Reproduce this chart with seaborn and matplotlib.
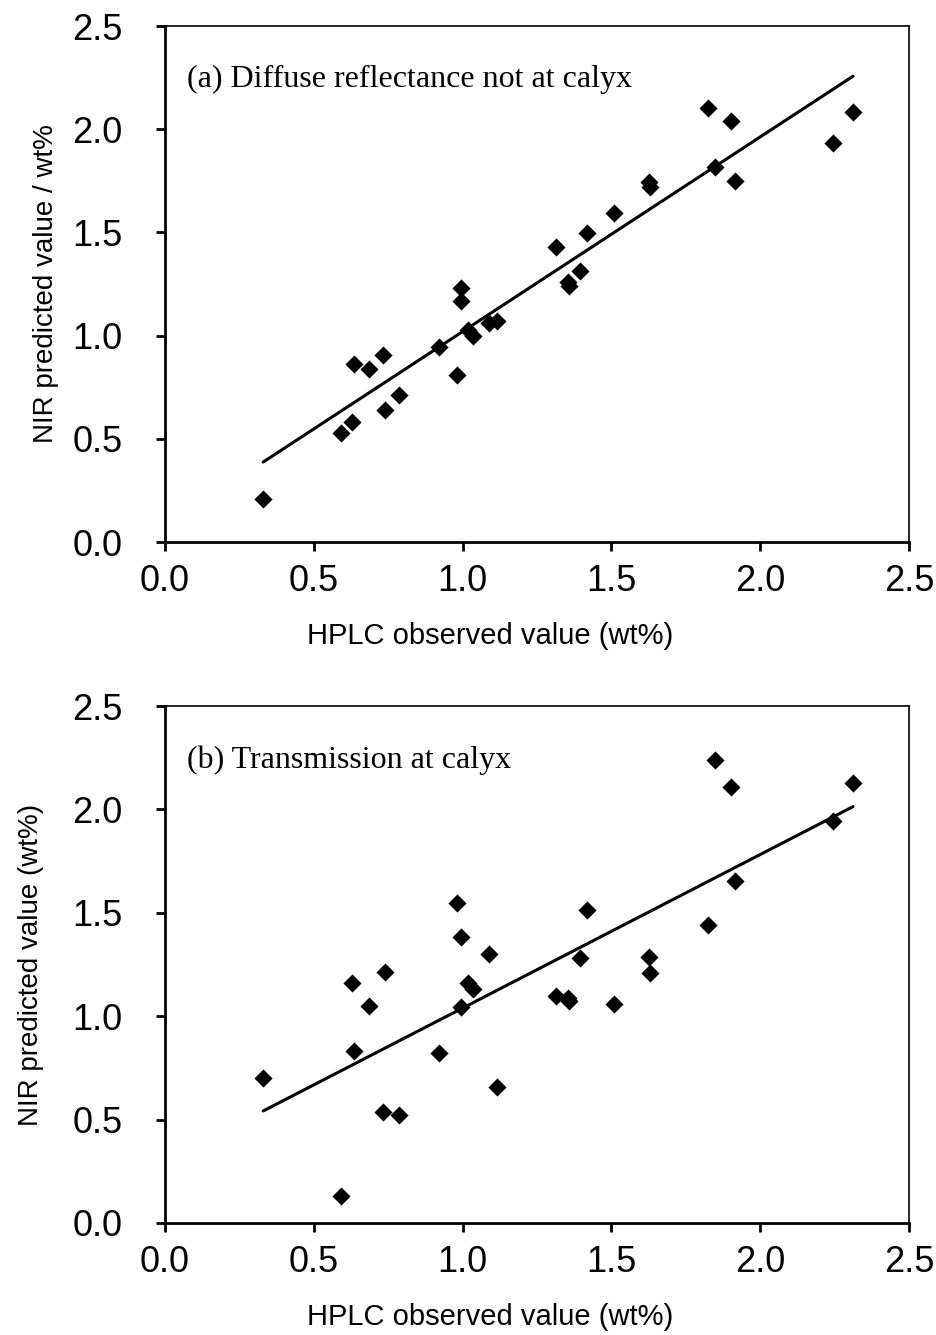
import matplotlib
matplotlib.use("Agg")
import matplotlib.pyplot as plt
import seaborn as sns
import numpy as np
import pandas as pd

# HPLC observed values (wt%) - shared by both panels
hplc = [0.33, 0.59, 0.63, 0.635, 0.685, 0.733, 0.739, 0.785, 0.92, 0.98,
        0.993, 0.996, 1.017, 1.036, 1.089, 1.115, 1.313, 1.354, 1.358, 1.396,
        1.419, 1.509, 1.627, 1.630, 1.826, 1.849, 1.902, 1.915, 2.243, 2.312]

# (a) Diffuse reflectance not at calyx - NIR predicted
nir_a = [0.21, 0.53, 0.58, 0.86, 0.84, 0.905, 0.64, 0.71, 0.945, 0.81,
         1.23, 1.17, 1.025, 1.00, 1.06, 1.07, 1.43, 1.26, 1.24, 1.315,
         1.495, 1.595, 1.745, 1.72, 2.105, 1.815, 2.04, 1.75, 1.935, 2.085]

# (b) Transmission at calyx - NIR predicted
nir_b = [0.70, 0.13, 1.16, 0.83, 1.05, 0.535, 1.215, 0.52, 0.82, 1.545,
         1.385, 1.045, 1.16, 1.13, 1.30, 0.66, 1.10, 1.09, 1.075, 1.28,
         1.515, 1.06, 1.285, 1.21, 1.44, 2.24, 2.11, 1.655, 1.945, 2.13]

ticks = [0.0, 0.5, 1.0, 1.5, 2.0, 2.5]
tick_labels = ["0.0", "0.5", "1.0", "1.5", "2.0", "2.5"]

panel_titles = ["(a) Diffuse reflectance not at calyx", "(b) Transmission at calyx"]
ylabels = ["NIR predicted value / wt%", "NIR predicted value (wt%)"]
xlabel = "HPLC observed value (wt%)"

sns.set_style("white")
plt.rcParams['font.family'] = ['Liberation Sans', 'DejaVu Sans']

fig = plt.figure(figsize=(9.36, 13.35), dpi=100)
W, H = 936, 1335
ax1 = fig.add_axes([165 / W, 1 - 542 / H, 744 / W, 516 / H])
ax2 = fig.add_axes([165 / W, 1 - 1223 / H, 744 / W, 517 / H])

df = pd.DataFrame({"hplc": hplc, "a": nir_a, "b": nir_b})

for ax, col, title, ylab, ylx in [(ax1, "a", panel_titles[0], ylabels[0], -0.160),
                                  (ax2, "b", panel_titles[1], ylabels[1], -0.180)]:
    sns.regplot(data=df, x="hplc", y=col, ax=ax, ci=None, marker="D",
                scatter_kws={"s": 85, "color": "black", "linewidths": 0, "alpha": 1},
                line_kws={"color": "black", "lw": 2.2})
    ax.set_xlim(0, 2.5)
    ax.set_ylim(0, 2.5)
    ax.set_xticks(ticks)
    ax.set_xticklabels(tick_labels)
    ax.set_yticks(ticks)
    ax.set_yticklabels(tick_labels)
    ax.tick_params(axis="both", direction="out", length=6.5, width=2,
                   color="black", labelsize=26, labelcolor="black")
    ax.tick_params(axis="x", pad=9)
    ax.tick_params(axis="y", pad=24)
    ax.tick_params(top=False, right=False, bottom=True, left=True)
    for side in ["left", "bottom"]:
        ax.spines[side].set_linewidth(2.0)
        ax.spines[side].set_color("black")
    for side in ["top", "right"]:
        ax.spines[side].set_linewidth(1.2)
        ax.spines[side].set_color("black")
    ax.set_xlabel(xlabel, fontsize=21, color="black")
    ax.set_ylabel(ylab, fontsize=20, color="black")
    ax.xaxis.label.set_va("center")
    ax.yaxis.label.set_va("center")
    ax.xaxis.set_label_coords(0.437, -0.182)
    ax.yaxis.set_label_coords(ylx, 0.5)
    ax.text(0.074, 2.24, title, fontsize=23, family=["Liberation Serif", "DejaVu Serif"],
            va="center", ha="left", color="black")
    ax.grid(False)

fig.savefig("out.png", dpi=100, facecolor="white")
